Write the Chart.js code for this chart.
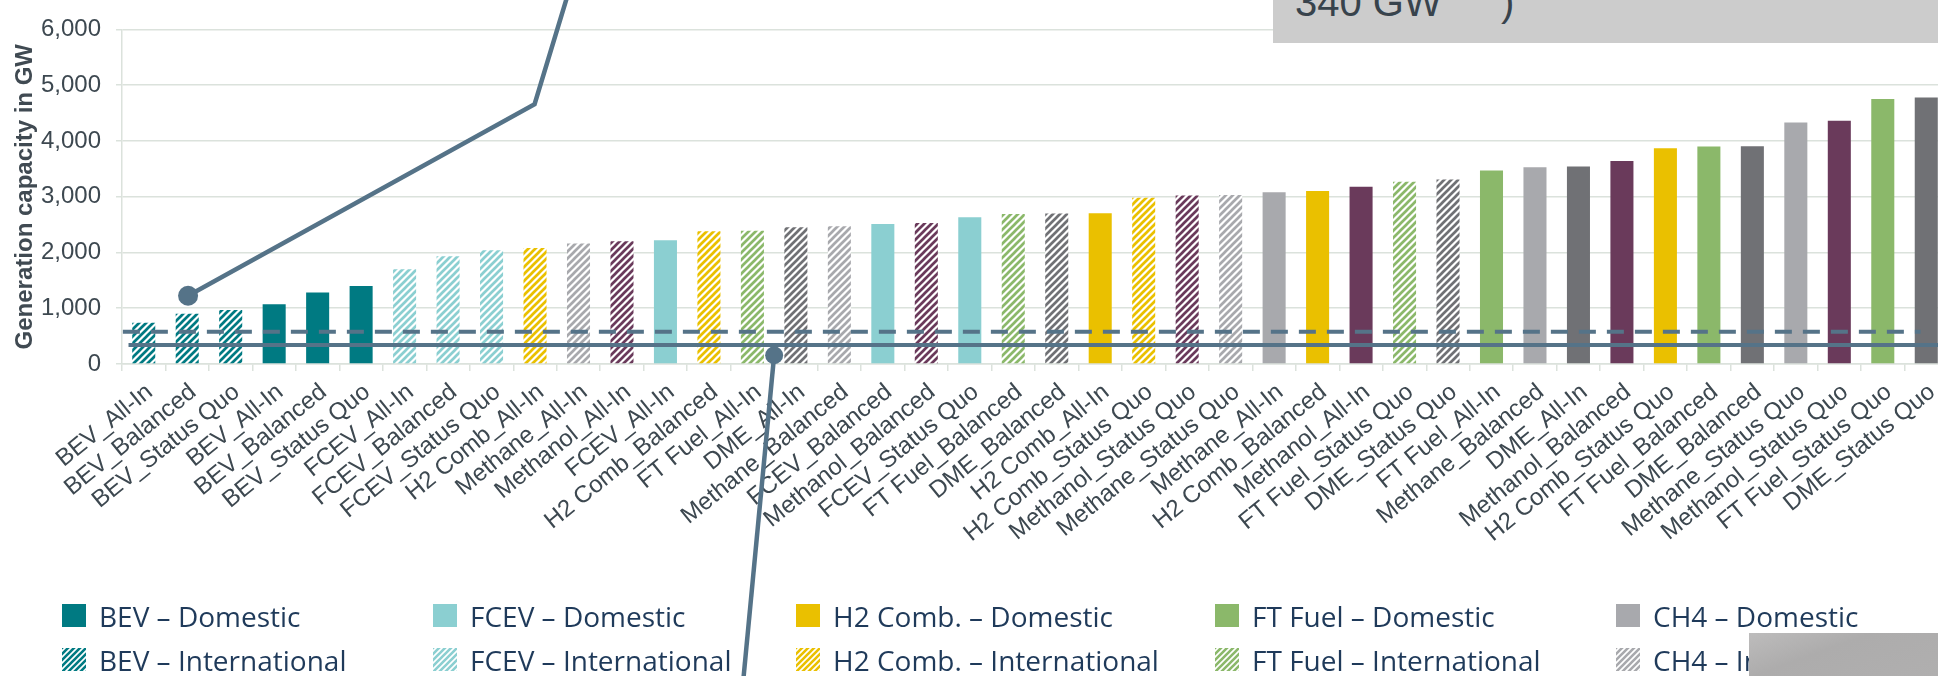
<!DOCTYPE html>
<html>
<head>
<meta charset="utf-8">
<script src="https://cdn.jsdelivr.net/npm/chart.js@4.4.1/dist/chart.umd.min.js"></script>
<style>
  html, body { margin:0; padding:0; width:1938px; height:676px; overflow:hidden; background:#fff; }
  #wrap { position:absolute; left:0; top:0; width:1958px; height:676px; }
  .lg-sw { position:absolute; width:24px; height:23px; }
  .lg-tx { position:absolute; font-family:"Open Sans", sans-serif; font-size:28px; line-height:28px; color:#1f3a5a; white-space:nowrap; }
  #boxTop { position:absolute; left:1273px; top:0; width:665px; height:43px; background:#cccccc; overflow:hidden; }
  #boxTop span { position:absolute; font-family:"Liberation Sans", Arial, sans-serif; font-size:40px; line-height:40px; color:#38434c; top:-18px; white-space:nowrap; }
  #boxBot { position:absolute; left:1749px; top:633px; width:189px; height:43px; background:linear-gradient(160deg,#bdbcbc,#adacac 40%,#b0afaf); }
</style>
</head>
<body>
<div id="wrap"><canvas id="c" width="1958" height="676"></canvas></div>
<div id="legend"></div>
<div id="boxTop"><span style="left:22px">340 GW</span><span style="left:228px">)</span></div>
<div id="boxBot"></div>
<script>
// ---------- data ----------
const categories = [
  "BEV_All-In","BEV_Balanced","BEV_Status Quo","BEV_All-In","BEV_Balanced","BEV_Status Quo",
  "FCEV_All-In","FCEV_Balanced","FCEV_Status Quo","H2 Comb_All-In","Methane_All-In","Methanol_All-In",
  "FCEV_All-In","H2 Comb_Balanced","FT Fuel_All-In","DME_All-In","Methane_Balanced","FCEV_Balanced",
  "Methanol_Balanced","FCEV_Status Quo","FT Fuel_Balanced","DME_Balanced","H2 Comb_All-In","H2 Comb_Status Quo",
  "Methanol_Status Quo","Methane_Status Quo","Methane_All-In","H2 Comb_Balanced","Methanol_All-In","FT Fuel_Status Quo",
  "DME_Status Quo","FT Fuel_All-In","Methane_Balanced","DME_All-In","Methanol_Balanced","H2 Comb_Status Quo",
  "FT Fuel_Balanced","DME_Balanced","Methane_Status Quo","Methanol_Status Quo","FT Fuel_Status Quo","DME_Status Quo"
];
const capacityGW = [
  740, 900, 970, 1070, 1280, 1400,
  1700, 1930, 2040, 2080, 2160, 2200,
  2220, 2380, 2390, 2450, 2470, 2510,
  2530, 2630, 2690, 2700, 2705, 2980,
  3020, 3030, 3080, 3100, 3180, 3270,
  3310, 3470, 3530, 3540, 3640, 3870,
  3900, 3905, 4330, 4360, 4750, 4780
];
const technology = [
  "BEV","BEV","BEV","BEV","BEV","BEV",
  "FCEV","FCEV","FCEV","H2","CH4","MeOH",
  "FCEV","H2","FT","DME","CH4","FCEV",
  "MeOH","FCEV","FT","DME","H2","H2",
  "MeOH","CH4","CH4","H2","MeOH","FT",
  "DME","FT","CH4","DME","MeOH","H2",
  "FT","DME","CH4","MeOH","FT","DME"
];
const sourcing = [
  "Intl","Intl","Intl","Dom","Dom","Dom",
  "Intl","Intl","Intl","Intl","Intl","Intl",
  "Dom","Intl","Intl","Intl","Intl","Dom",
  "Intl","Dom","Intl","Intl","Dom","Intl",
  "Intl","Intl","Dom","Dom","Dom","Intl",
  "Intl","Dom","Dom","Dom","Dom","Dom",
  "Dom","Dom","Dom","Dom","Dom","Dom"
];
const currentCapacityGW = 340;     // solid reference line
const dashedLevelGW = 580;         // dashed reference line
const yTicks = [0, 1000, 2000, 3000, 4000, 5000, 6000];
// callout connectors (x in category-index units, y in GW)
const calloutUpper = [{x:1.02,y:1224},{x:8.99,y:4658},{x:9.9,y:7000}];
const calloutLower = [{x:14.5,y:157},{x:13.75,y:-6000}];
const calloutCorner = [{x:-3.36,y:5860}];
const legendGroups = ["BEV","FCEV","H2 Comb.","FT Fuel","CH4"];
const legendTech = ["BEV","FCEV","H2","FT","CH4"];

// ---------- styles ----------
const techColors = {BEV:"#007A82", FCEV:"#8BCFD1", H2:"#EAC000", FT:"#8BB86A", CH4:"#A8A9AD", MeOH:"#6A3A5B", DME:"#707175"};
const slate = "#557388";
const gridColor = "#dbe2dc";
const tickColor = "#3d4850";

function hatchCanvas(color, s, w) {
  const c = document.createElement("canvas");
  c.width = s; c.height = s;
  const g = c.getContext("2d");
  g.fillStyle = "#fff"; g.fillRect(0,0,s,s);
  g.strokeStyle = color; g.lineWidth = w; g.lineCap = "square";
  g.beginPath();
  for (let k = -1; k <= 1; k++) {
    g.moveTo(k*s - 1, s + 1); g.lineTo(k*s + s + 1, -1);
  }
  g.stroke();
  return c;
}
const patternCtx = document.createElement("canvas").getContext("2d");
function hatchPattern(color) { return patternCtx.createPattern(hatchCanvas(color, 7, 2.7), "repeat"); }

const barFills = capacityGW.map((v, i) => sourcing[i] === "Intl" ? hatchPattern(techColors[technology[i]]) : techColors[technology[i]]);

// ---------- legend (HTML) ----------
const legendX = [62, 433, 796, 1215, 1616];
const legendEl = document.getElementById("legend");
legendGroups.forEach((name, i) => {
  ["Domestic","International"].forEach((kind, r) => {
    const col = techColors[legendTech[i]];
    const sw = document.createElement("canvas");
    sw.className = "lg-sw"; sw.width = 24; sw.height = 23;
    sw.style.left = legendX[i] + "px"; sw.style.top = (r === 0 ? 604 : 648) + "px";
    const g = sw.getContext("2d");
    if (kind === "Domestic") { g.fillStyle = col; g.fillRect(0,0,24,23); }
    else { g.fillStyle = g.createPattern(hatchCanvas(col, 6, 2.6), "repeat"); g.fillRect(0,0,24,23); }
    legendEl.appendChild(sw);
    const tx = document.createElement("div");
    tx.className = "lg-tx";
    tx.textContent = name + " \u2013 " + kind;
    tx.style.left = (legendX[i] + 37) + "px";
    tx.style.top = (r === 0 ? 602 : 646) + "px";
    legendEl.appendChild(tx);
  });
});

// ---------- chart ----------
const lineCommon = { type:"line", xAxisID:"x", yAxisID:"y", parsing:false, borderColor:slate, backgroundColor:slate,
  pointBackgroundColor:slate, pointBorderWidth:0, clip:false, tension:0, fill:false, order:0 };

new Chart(document.getElementById("c"), {
  type: "bar",
  data: {
    labels: categories,
    datasets: [
      { type:"bar", xAxisID:"x", yAxisID:"y", data: capacityGW, backgroundColor: barFills, borderWidth:0,
        grouped:false, barPercentage:0.53, categoryPercentage:1, order:10 },
      Object.assign({}, lineCommon, { data: [{x:-0.35,y:currentCapacityGW},{x:42,y:currentCapacityGW}], borderWidth:4, pointRadius:0, order:2 }),
      Object.assign({}, lineCommon, { data: [{x:-0.48,y:dashedLevelGW},{x:40.87,y:dashedLevelGW}], borderWidth:4, borderDash:[17,11], pointRadius:0, order:2 }),
      Object.assign({}, lineCommon, { data: calloutUpper, borderWidth:4.5, pointRadius: calloutUpper.map((p,i)=> i===0 ? 10 : 0) }),
      Object.assign({}, lineCommon, { data: calloutLower, borderWidth:4.5, pointRadius: calloutLower.map((p,i)=> i===0 ? 9 : 0) }),
      Object.assign({}, lineCommon, { data: calloutCorner, showLine:false, pointRadius: 8 })
    ]
  },
  options: {
    responsive:false, animation:false, devicePixelRatio:1,
    layout:{ padding:{ top:21, left:0, right:0, bottom:0 } },
    plugins:{ legend:{ display:false }, tooltip:{ enabled:false } },
    scales:{
      x:{
        type:"category", offset:true,
        grid:{ display:true, drawOnChartArea:false, drawTicks:true, tickLength:7, color:gridColor, lineWidth:1.5, offset:true },
        border:{ display:true, color:gridColor, width:1.5 },
        ticks:{ autoSkip:false, minRotation:39, maxRotation:39, color:tickColor, padding:7, labelOffset:6,
          font:{ family:"Liberation Sans", size:24 } },
        afterFit(s){ s.height = 312; }
      },
      y:{
        min:0, max:6000,
        afterBuildTicks(s){ s.ticks = yTicks.map(v => ({value:v})); },
        ticks:{ color:tickColor, padding:15, font:{ family:"Liberation Sans", size:24 } },
        grid:{ color:gridColor, lineWidth:1.5, tickLength:6 },
        border:{ display:true, color:gridColor, width:1.5 },
        title:{ display:true, text:"Generation capacity in GW", color:"#404a52",
          font:{ family:"Liberation Sans", size:24, weight:"bold" }, padding:{ top:11, bottom:0 } },
        afterFit(s){ s.width = 122; }
      }
    }
  }
});
</script>
</body>
</html>
